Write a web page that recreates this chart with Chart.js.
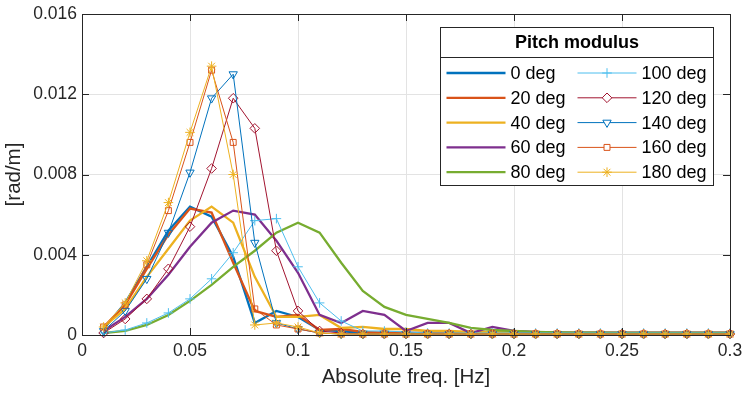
<!DOCTYPE html>
<html>
<head>
<meta charset="utf-8">
<script src="https://cdn.jsdelivr.net/npm/chart.js@4/dist/chart.umd.min.js"></script>
<style>
  html, body { margin: 0; padding: 0; background: #fff; }
  #wrap { width: 743px; height: 393px; }
</style>
</head>
<body>
<div id="wrap"><canvas id="c"></canvas></div>
<script>
// frequencies [Hz]
const freqs = [0.01, 0.02, 0.03, 0.04, 0.05, 0.06, 0.07, 0.08, 0.09, 0.10,
               0.11, 0.12, 0.13, 0.14, 0.15, 0.16, 0.17, 0.18, 0.19, 0.20,
               0.21, 0.22, 0.23, 0.24, 0.25, 0.26, 0.27, 0.28, 0.29, 0.30];

// pitch modulus per heading [rad/m]
const deg0 = [0.0003, 0.0016, 0.0034, 0.0052, 0.0064, 0.0059, 0.0039, 0.0006, 0.0012, 0.0009,
              0.00025, 0.0002, 0.0001, 0.0001, 0.0001, 0.0001, 0.0001, 0.0001, 0.0001, 0.0001,
              0.0001, 0.0001, 0.0001, 0.0001, 0.0001, 0.0001, 0.0001, 0.0001, 0.0001, 0.0001];
const deg20 = [0.0004, 0.0015, 0.0033, 0.0050, 0.0063, 0.0061, 0.0036, 0.0012, 0.0009, 0.0010,
               0.00025, 0.0003, 0.00015, 0.0001, 0.0001, 0.0001, 0.0001, 0.0001, 0.0001, 0.0001,
               0.0001, 0.0001, 0.0001, 0.0001, 0.0001, 0.0001, 0.0001, 0.0001, 0.0001, 0.0001];
const deg40 = [0.0004, 0.0013, 0.0029, 0.0043, 0.0057, 0.0064, 0.0056, 0.0029, 0.0009, 0.0009,
               0.0010, 0.00035, 0.0004, 0.0003, 0.0003, 0.0002, 0.0002, 0.00015, 0.00015, 0.0001,
               0.0001, 0.0001, 0.0001, 0.0001, 0.0001, 0.0001, 0.0001, 0.0001, 0.0001, 0.0001];
const deg60 = [0.0002, 0.0009, 0.0018, 0.0030, 0.0044, 0.0056, 0.0062, 0.0060, 0.0047, 0.0031,
               0.0010, 0.0006, 0.0012, 0.0010, 0.0002, 0.0006, 0.0006, 0.0001, 0.0004, 0.0002,
               0.00015, 0.0001, 0.0001, 0.0001, 0.0001, 0.0001, 0.0001, 0.0001, 0.0001, 0.0001];
const deg80 = [0.0001, 0.0002, 0.0005, 0.0010, 0.0017, 0.0025, 0.0034, 0.0042, 0.0051, 0.0056,
               0.0051, 0.0036, 0.0022, 0.0014, 0.0010, 0.0008, 0.0006, 0.00036, 0.00025, 0.0002,
               0.00016, 0.00013, 0.00012, 0.00012, 0.00011, 0.0001, 0.0001, 0.0001, 0.0001, 0.0001];
const deg100 = [0.0001, 0.00025, 0.0006, 0.0011, 0.0018, 0.0028, 0.0041, 0.0057, 0.0058, 0.0034,
                0.0016, 0.0007, 0.0002, 0.0002, 0.00015, 0.0001, 0.0001, 0.0001, 0.0001, 0.0001,
                0.0001, 0.0001, 0.0001, 0.0001, 0.0001, 0.0001, 0.0001, 0.0001, 0.0001, 0.0001];
const deg120 = [0.0001, 0.0008, 0.0018, 0.0033, 0.0054, 0.0083, 0.0118, 0.0103, 0.0042, 0.0012,
                0.0002, 0.0001, 0.00005, 0.00005, 0.00005, 0.00005, 0.00005, 0.00005, 0.00005, 0.00005,
                0.00005, 0.00005, 0.00005, 0.00005, 0.00005, 0.00005, 0.00005, 0.00005, 0.00005, 0.00005];
const deg140 = [0.0002, 0.0012, 0.0028, 0.0051, 0.0081, 0.0118, 0.0130, 0.0046, 0.0006, 0.0003,
                0.0001, 0.00005, 0.00005, 0.00005, 0.00005, 0.00005, 0.00005, 0.00005, 0.00005, 0.00005,
                0.00005, 0.00005, 0.00005, 0.00005, 0.00005, 0.00005, 0.00005, 0.00005, 0.00005, 0.00005];
const deg160 = [0.0004, 0.0015, 0.0035, 0.0062, 0.0096, 0.0132, 0.0096, 0.0013, 0.0005, 0.0003,
                0.0001, 0.00005, 0.00005, 0.00005, 0.00005, 0.00005, 0.00005, 0.00005, 0.00005, 0.00005,
                0.00005, 0.00005, 0.00005, 0.00005, 0.00005, 0.00005, 0.00005, 0.00005, 0.00005, 0.00005];
const deg180 = [0.0004, 0.0016, 0.0037, 0.0066, 0.0101, 0.0134, 0.0080, 0.0005, 0.0006, 0.0004,
                0.0001, 0.00005, 0.00005, 0.00005, 0.00005, 0.00005, 0.00005, 0.00005, 0.00005, 0.00005,
                0.00005, 0.00005, 0.00005, 0.00005, 0.00005, 0.00005, 0.00005, 0.00005, 0.00005, 0.00005];

const xTicks = [0, 0.05, 0.1, 0.15, 0.2, 0.25, 0.3];
const yTicks = [0, 0.004, 0.008, 0.012, 0.016];

const FONT = "'Liberation Sans', Arial, Helvetica, sans-serif";
const TXT = '#262626';

// label, values, colour, marker (none = thick line)
const series = [
  ['0 deg', deg0, '#0072BD', null],
  ['20 deg', deg20, '#D95319', null],
  ['40 deg', deg40, '#EDB120', null],
  ['60 deg', deg60, '#7E2F8E', null],
  ['80 deg', deg80, '#77AC30', null],
  ['100 deg', deg100, '#4DBEEE', 'cross'],
  ['120 deg', deg120, '#A2142F', 'rectRot'],
  ['140 deg', deg140, '#0072BD', 'triangle'],
  ['160 deg', deg160, '#D95319', 'rect'],
  ['180 deg', deg180, '#EDB120', 'star']
];

const datasets = series.map(function(s, i) {
  const marker = s[3];
  return {
    label: s[0],
    data: freqs.map(function(f, j) { return {x: f, y: s[1][j]}; }),
    borderColor: s[2],
    backgroundColor: s[2],
    borderWidth: marker ? 1 : 2.3,
    pointRadius: marker ? (marker === 'rect' ? 4.2 : 4.8) : 0,
    pointStyle: marker || 'circle',
    pointRotation: marker === 'triangle' ? 180 : 0,
    pointBorderColor: s[2],
    pointBackgroundColor: 'rgba(0,0,0,0)',
    pointBorderWidth: 1,
    tension: 0,
    clip: false,
    order: -i
  };
});

// box, inward ticks and legend like the matlab figure
const frame = {
  id: 'frame',
  afterDraw: function(chart) {
    const ctx = chart.ctx;
    const a = chart.chartArea;
    const xs = chart.scales.x, ys = chart.scales.y;
    ctx.save();
    ctx.strokeStyle = TXT;
    ctx.lineWidth = 1;
    ctx.beginPath();
    xTicks.forEach(function(v) {
      const px = Math.round(xs.getPixelForValue(v)) + 0.5;
      ctx.moveTo(px, a.bottom); ctx.lineTo(px, a.bottom - 7);
      ctx.moveTo(px, a.top); ctx.lineTo(px, a.top + 7);
    });
    yTicks.forEach(function(v) {
      const py = Math.round(ys.getPixelForValue(v)) + 0.5;
      ctx.moveTo(a.left, py); ctx.lineTo(a.left + 7, py);
      ctx.moveTo(a.right, py); ctx.lineTo(a.right - 7, py);
    });
    ctx.stroke();
    ctx.strokeRect(Math.round(a.left) + 0.5, Math.round(a.top) + 0.5,
                   Math.round(a.right - a.left), Math.round(a.bottom - a.top));

    // legend
    const bx = Math.round(a.right) - 289.5, by = Math.round(a.top) + 13.5, bw = 273, bh = 158;
    ctx.fillStyle = '#fff';
    ctx.fillRect(bx, by, bw, bh);
    ctx.strokeRect(bx, by, bw, bh);
    ctx.beginPath();
    ctx.moveTo(bx, by + 30); ctx.lineTo(bx + bw, by + 30);
    ctx.stroke();
    ctx.fillStyle = '#000';
    ctx.font = 'bold 18px ' + FONT;
    ctx.textAlign = 'center';
    ctx.textBaseline = 'middle';
    ctx.fillText('Pitch modulus', bx + bw / 2, by + 16);
    ctx.font = '18px ' + FONT;
    ctx.textAlign = 'left';
    chart.data.datasets.forEach(function(ds, i) {
      const col = Math.floor(i / 5), row = i % 5;
      const x0 = bx + 6 + col * 131;
      const y0 = by + 45.5 + row * 24.8;
      ctx.strokeStyle = ds.borderColor;
      ctx.lineWidth = ds.borderWidth;
      ctx.beginPath();
      ctx.moveTo(x0, y0); ctx.lineTo(x0 + 59, y0);
      ctx.stroke();
      if (ds.pointRadius > 0) {
        ctx.fillStyle = '#fff';
        ctx.lineWidth = 1;
        Chart.helpers.drawPoint(ctx, {
          pointStyle: ds.pointStyle, rotation: ds.pointRotation,
          radius: ds.pointRadius, borderWidth: 1
        }, x0 + 29.5, y0);
      }
      ctx.fillStyle = '#000';
      ctx.fillText(ds.label, x0 + 64, y0 + 1);
    });
    ctx.restore();
  }
};

new Chart(document.getElementById('c'), {
  type: 'line',
  data: { datasets: datasets },
  plugins: [frame],
  options: {
    responsive: true,
    maintainAspectRatio: false,
    animation: false,
    layout: { padding: { top: 14, right: 13, left: 0, bottom: 0 } },
    plugins: { legend: { display: false }, tooltip: { enabled: false } },
    scales: {
      x: {
        type: 'linear', min: 0, max: 0.3,
        afterBuildTicks: function(s) { s.ticks = xTicks.map(function(v) { return {value: v}; }); },
        afterFit: function(s) { s.height = 58; s.paddingLeft = 0; s.paddingRight = 0; },
        ticks: { font: { size: 17.5, family: FONT }, color: TXT, padding: 6, maxRotation: 0,
                 callback: function(v) { return String(v); } },
        grid: { color: '#e3e3e3', drawTicks: false },
        border: { display: true, color: TXT },
        title: { display: true, text: 'Absolute freq. [Hz]', font: { size: 20.5, family: FONT }, color: TXT, padding: 3 }
      },
      y: {
        type: 'linear', min: 0, max: 0.016,
        afterBuildTicks: function(s) { s.ticks = yTicks.map(function(v) { return {value: v}; }); },
        afterFit: function(s) { s.width = 82; s.paddingTop = 0; s.paddingBottom = 0; },
        ticks: { font: { size: 17.5, family: FONT }, color: TXT, padding: 5,
                 callback: function(v) { return String(v); } },
        grid: { color: '#e3e3e3', drawTicks: false },
        border: { display: true, color: TXT },
        title: { display: true, text: '[rad/m]', font: { size: 20.5, family: FONT }, color: TXT, padding: 2 }
      }
    }
  }
});
</script>
</body>
</html>
